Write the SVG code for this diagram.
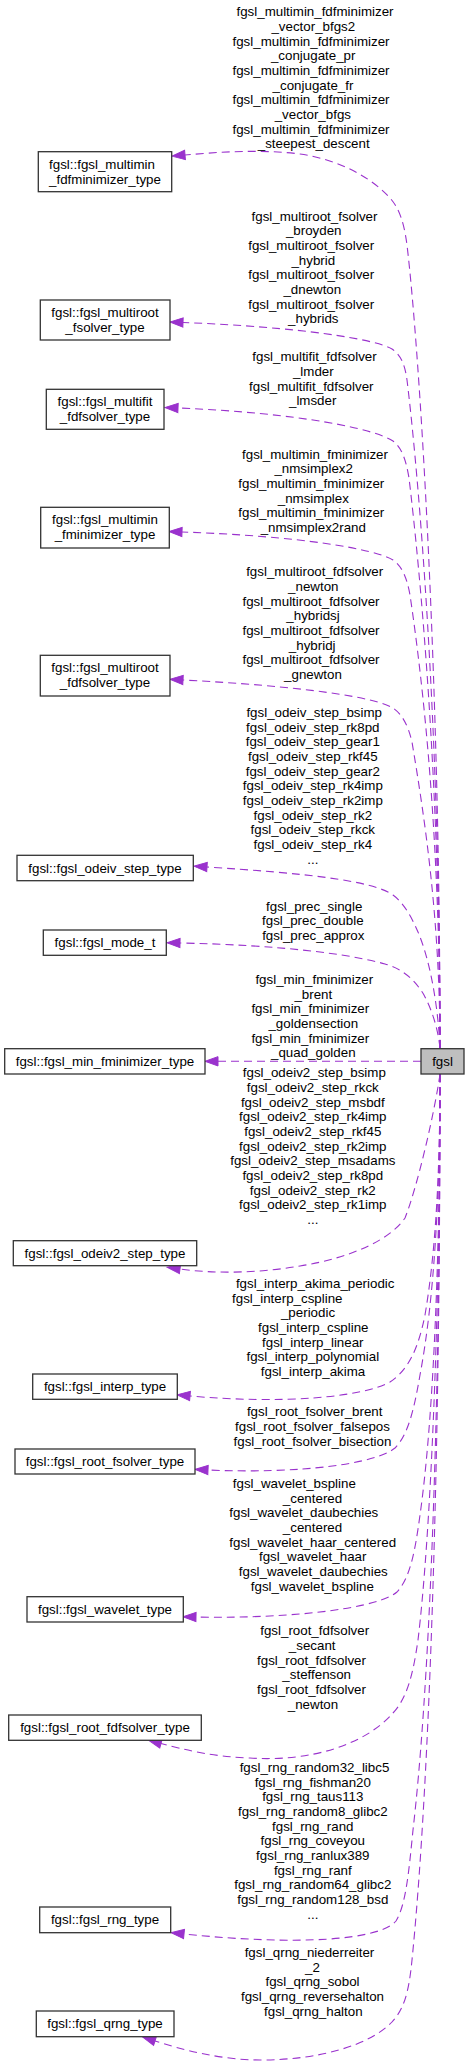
<svg xmlns="http://www.w3.org/2000/svg" width="469" height="2066" viewBox="0 0 469 2066">
<style>
text{font-family:"Liberation Sans",Arial,Helvetica,sans-serif;font-size:13.33px;fill:#000;text-anchor:middle}
.box{fill:#fff;stroke:#333;stroke-width:1.3}
.cur{fill:#bfbfbf;stroke:#333;stroke-width:1.3}
.e{fill:none;stroke:#9a32cd;stroke-width:1.1;stroke-dasharray:8,5;marker-end:url(#ah)}
</style>
<defs>
<marker id="ah" markerWidth="14" markerHeight="10" refX="0" refY="4.65" orient="auto" markerUnits="userSpaceOnUse" overflow="visible">
<path d="M0,0 L13,4.65 L0,9.3 Z" fill="#9a32cd" stroke="#9a32cd" stroke-width="1"/>
</marker>
</defs>
<rect width="469" height="2066" fill="#fff"/>

<g id="connectors">
<g id="e1"><path class="e" d="M440,1048 C440,681 420,355 407,245 C404,222 399,208 390,198 C372,178 340,160 300,154 C260,149 220,152 185,155"/>
<text><tspan x="315" y="16.2">fgsl_multimin_fdfminimizer</tspan><tspan x="313.3" y="30.9">_vector_bfgs2</tspan><tspan x="311" y="45.5">fgsl_multimin_fdfminimizer</tspan><tspan x="313.2" y="60.2">_conjugate_pr</tspan><tspan x="311" y="74.9">fgsl_multimin_fdfminimizer</tspan><tspan x="313" y="89.6">_conjugate_fr</tspan><tspan x="311" y="104.2">fgsl_multimin_fdfminimizer</tspan><tspan x="312.8" y="118.9">_vector_bfgs</tspan><tspan x="311" y="133.6">fgsl_multimin_fdfminimizer</tspan><tspan x="313.7" y="148.2">_steepest_descent</tspan></text></g>
<g id="e2"><path class="e" d="M440,1048 C440,720 418,470 407,380 C405,365 401,355 392,349 C375,339 300,327 183,322.5"/>
<text><tspan x="314.5" y="220.5">fgsl_multiroot_fsolver</tspan><tspan x="313.7" y="235.2">_broyden</tspan><tspan x="311.2" y="249.8">fgsl_multiroot_fsolver</tspan><tspan x="313.3" y="264.5">_hybrid</tspan><tspan x="311.2" y="279.2">fgsl_multiroot_fsolver</tspan><tspan x="312.3" y="293.9">_dnewton</tspan><tspan x="311.2" y="308.5">fgsl_multiroot_fsolver</tspan><tspan x="313.3" y="323.2">_hybrids</tspan></text></g>
<g id="e3"><path class="e" d="M440,1048 C440,780 420,570 409,478 C406,460 402,448 393,441 C375,429 300,413 178,408"/>
<text><tspan x="314.5" y="361.2">fgsl_multifit_fdfsolver</tspan><tspan x="313.3" y="375.9">_lmder</tspan><tspan x="311.3" y="390.5">fgsl_multifit_fdfsolver</tspan><tspan x="312.7" y="405.2">_lmsder</tspan></text></g>
<g id="e4"><path class="e" d="M440,1048 C440,840 424,690 410,595 C407,578 402,566 393,560 C375,549 300,536 182,532"/>
<text><tspan x="315" y="458.5">fgsl_multimin_fminimizer</tspan><tspan x="313.7" y="473.2">_nmsimplex2</tspan><tspan x="311.3" y="487.8">fgsl_multimin_fminimizer</tspan><tspan x="313.3" y="502.5">_nmsimplex</tspan><tspan x="311.3" y="517.2">fgsl_multimin_fminimizer</tspan><tspan x="313.3" y="531.9">_nmsimplex2rand</tspan></text></g>
<g id="e5"><path class="e" d="M440,1048 C440,920 425,820 412,742 C408,725 402,714 393,708 C375,697 300,686 183,680"/>
<text><tspan x="314.7" y="576.2">fgsl_multiroot_fdfsolver</tspan><tspan x="313.3" y="590.9">_newton</tspan><tspan x="311" y="605.5">fgsl_multiroot_fdfsolver</tspan><tspan x="313" y="620.2">_hybridsj</tspan><tspan x="311" y="634.9">fgsl_multiroot_fdfsolver</tspan><tspan x="312.2" y="649.6">_hybridj</tspan><tspan x="311" y="664.2">fgsl_multiroot_fdfsolver</tspan><tspan x="313" y="678.9">_gnewton</tspan></text></g>
<g id="e6"><path class="e" d="M440,1048 C438,1005 430,960 418,932 C412,918 404,903 393,895 C372,880 300,873 207,867"/>
<text><tspan x="314.2" y="716.8">fgsl_odeiv_step_bsimp</tspan><tspan x="312.8" y="731.5">fgsl_odeiv_step_rk8pd</tspan><tspan x="312.8" y="746.1">fgsl_odeiv_step_gear1</tspan><tspan x="312.8" y="760.8">fgsl_odeiv_step_rkf45</tspan><tspan x="312.8" y="775.5">fgsl_odeiv_step_gear2</tspan><tspan x="312.8" y="790.2">fgsl_odeiv_step_rk4imp</tspan><tspan x="312.8" y="804.8">fgsl_odeiv_step_rk2imp</tspan><tspan x="312.8" y="819.5">fgsl_odeiv_step_rk2</tspan><tspan x="312.8" y="834.2">fgsl_odeiv_step_rkck</tspan><tspan x="312.8" y="848.8">fgsl_odeiv_step_rk4</tspan><tspan x="312.8" y="863.5">...</tspan></text></g>
<g id="e7"><path class="e" d="M440,1048 C438,1030 433,1012 424,995 C415,980 403,969 385,964 C350,954 280,945 180,943"/>
<text><tspan x="314.2" y="910.5">fgsl_prec_single</tspan><tspan x="312.8" y="925.2">fgsl_prec_double</tspan><tspan x="313.3" y="939.8">fgsl_prec_approx</tspan></text></g>
<g id="e8"><path class="e" d="M421,1061.3 L218,1061.3"/>
<text><tspan x="314.3" y="983.8">fgsl_min_fminimizer</tspan><tspan x="313.3" y="998.5">_brent</tspan><tspan x="310.3" y="1013.1">fgsl_min_fminimizer</tspan><tspan x="313.3" y="1027.8">_goldensection</tspan><tspan x="310.3" y="1042.5">fgsl_min_fminimizer</tspan><tspan x="313.3" y="1057.2">_quad_golden</tspan></text></g>
<g id="e9"><path class="e" d="M440,1074 C435,1110 418,1185 405,1218 C390,1240 350,1258 300,1266 C260,1273 215,1274 180,1269"/>
<text><tspan x="314.3" y="1077.2">fgsl_odeiv2_step_bsimp</tspan><tspan x="312.8" y="1091.9">fgsl_odeiv2_step_rkck</tspan><tspan x="312.8" y="1106.5">fgsl_odeiv2_step_msbdf</tspan><tspan x="312.8" y="1121.2">fgsl_odeiv2_step_rk4imp</tspan><tspan x="312.8" y="1135.9">fgsl_odeiv2_step_rkf45</tspan><tspan x="312.8" y="1150.6">fgsl_odeiv2_step_rk2imp</tspan><tspan x="312.8" y="1165.2">fgsl_odeiv2_step_msadams</tspan><tspan x="312.8" y="1179.9">fgsl_odeiv2_step_rk8pd</tspan><tspan x="312.8" y="1194.6">fgsl_odeiv2_step_rk2</tspan><tspan x="312.8" y="1209.2">fgsl_odeiv2_step_rk1imp</tspan><tspan x="312.8" y="1223.9">...</tspan></text></g>
<g id="e10"><path class="e" d="M440,1074 C440,1170 436,1250 425,1315 C418,1350 408,1370 390,1382 C360,1398 280,1404 190,1396"/>
<text><tspan x="315.2" y="1287.8">fgsl_interp_akima_periodic</tspan><tspan x="287.3" y="1302.5">fgsl_interp_cspline</tspan><tspan x="308" y="1317.1">_periodic</tspan><tspan x="313.3" y="1331.8">fgsl_interp_cspline</tspan><tspan x="312.8" y="1346.5">fgsl_interp_linear</tspan><tspan x="312.8" y="1361.2">fgsl_interp_polynomial</tspan><tspan x="313" y="1375.8">fgsl_interp_akima</tspan></text></g>
<g id="e11"><path class="e" d="M440,1074 C440,1200 434,1300 420,1375 C414,1410 408,1435 395,1448 C375,1464 300,1474 208,1470"/>
<text><tspan x="314.7" y="1416.2">fgsl_root_fsolver_brent</tspan><tspan x="312.5" y="1430.9">fgsl_root_fsolver_falsepos</tspan><tspan x="312.5" y="1445.5">fgsl_root_fsolver_bisection</tspan></text></g>
<g id="e12"><path class="e" d="M440,1074 C440,1280 432,1430 420,1515 C415,1552 410,1578 397,1592 C380,1607 300,1619 196,1617"/>
<text><tspan x="294.3" y="1487.8">fgsl_wavelet_bspline</tspan><tspan x="312.5" y="1502.5">_centered</tspan><tspan x="303.8" y="1517.1">fgsl_wavelet_daubechies</tspan><tspan x="312.5" y="1531.8">_centered</tspan><tspan x="312.7" y="1546.5">fgsl_wavelet_haar_centered</tspan><tspan x="312.7" y="1561.2">fgsl_wavelet_haar</tspan><tspan x="313.3" y="1575.8">fgsl_wavelet_daubechies</tspan><tspan x="312.3" y="1590.5">fgsl_wavelet_bspline</tspan></text></g>
<g id="e13"><path class="e" d="M440,1074 C440,1330 430,1540 418,1640 C413,1675 407,1698 393,1713 C365,1745 310,1762 250,1758 C215,1757 185,1750 161,1743.5"/>
<text><tspan x="314.7" y="1635.2">fgsl_root_fdfsolver</tspan><tspan x="312.2" y="1649.9">_secant</tspan><tspan x="311.5" y="1664.5">fgsl_root_fdfsolver</tspan><tspan x="316.7" y="1679.2">_steffenson</tspan><tspan x="311.5" y="1693.9">fgsl_root_fdfsolver</tspan><tspan x="313" y="1708.6">_newton</tspan></text></g>
<g id="e14"><path class="e" d="M440,1074 C440,1450 428,1700 413,1830 C409,1870 406,1905 396,1921 C380,1940 300,1946 184,1934"/>
<text><tspan x="314.5" y="1771.8">fgsl_rng_random32_libc5</tspan><tspan x="312.8" y="1786.5">fgsl_rng_fishman20</tspan><tspan x="312.8" y="1801.1">fgsl_rng_taus113</tspan><tspan x="312.8" y="1815.8">fgsl_rng_random8_glibc2</tspan><tspan x="312.8" y="1830.5">fgsl_rng_rand</tspan><tspan x="312.8" y="1845.2">fgsl_rng_coveyou</tspan><tspan x="312.8" y="1859.8">fgsl_rng_ranlux389</tspan><tspan x="312.8" y="1874.5">fgsl_rng_ranf</tspan><tspan x="312.8" y="1889.2">fgsl_rng_random64_glibc2</tspan><tspan x="312.8" y="1903.8">fgsl_rng_random128_bsd</tspan><tspan x="312.8" y="1918.5">...</tspan></text></g>
<g id="e15"><path class="e" d="M440,1074 C440,1500 428,1800 412,1960 C409,1990 405,2008 392,2022 C370,2045 320,2060 260,2060 C220,2060 180,2049 155,2041"/>
<text><tspan x="309.5" y="1956.8">fgsl_qrng_niederreiter</tspan><tspan x="312.5" y="1971.5">_2</tspan><tspan x="312.5" y="1986.1">fgsl_qrng_sobol</tspan><tspan x="312.5" y="2000.8">fgsl_qrng_reversehalton</tspan><tspan x="313.3" y="2015.5">fgsl_qrng_halton</tspan></text></g>
</g>

<g id="nodes">
<g id="n_fgsl"><rect class="cur" x="421" y="1048.7" width="43" height="25.3"/><text x="442.5" y="1065.8">fgsl</text></g>
<g id="n1"><rect class="box" x="38.3" y="151.7" width="133.4" height="40"/><text><tspan x="102" y="168.5">fgsl::fgsl_multimin</tspan><tspan x="105" y="183.5">_fdfminimizer_type</tspan></text></g>
<g id="n2"><rect class="box" x="40.3" y="300" width="129.7" height="40"/><text><tspan x="105" y="316.8">fgsl::fgsl_multiroot</tspan><tspan x="105" y="331.8">_fsolver_type</tspan></text></g>
<g id="n3"><rect class="box" x="46.3" y="389.3" width="117.7" height="40"/><text><tspan x="105" y="406.1">fgsl::fgsl_multifit</tspan><tspan x="105" y="421.1">_fdfsolver_type</tspan></text></g>
<g id="n4"><rect class="box" x="40.7" y="507.3" width="128.6" height="40.7"/><text><tspan x="105" y="524.1">fgsl::fgsl_multimin</tspan><tspan x="105" y="539.1">_fminimizer_type</tspan></text></g>
<g id="n5"><rect class="box" x="40.3" y="655.3" width="129.7" height="40.7"/><text><tspan x="105" y="672.1">fgsl::fgsl_multiroot</tspan><tspan x="105" y="687.1">_fdfsolver_type</tspan></text></g>
<g id="n6"><rect class="box" x="17" y="855.3" width="176.3" height="25.4"/><text x="105" y="872.5">fgsl::fgsl_odeiv_step_type</text></g>
<g id="n7"><rect class="box" x="43.3" y="930" width="123" height="25.3"/><text x="105" y="947.2">fgsl::fgsl_mode_t</text></g>
<g id="n8"><rect class="box" x="4.7" y="1048.7" width="200.3" height="25.3"/><text x="105" y="1065.8">fgsl::fgsl_min_fminimizer_type</text></g>
<g id="n9"><rect class="box" x="13.3" y="1240.7" width="183.4" height="25"/><text x="105" y="1257.7">fgsl::fgsl_odeiv2_step_type</text></g>
<g id="n10"><rect class="box" x="32.7" y="1374" width="144.6" height="25.3"/><text x="105" y="1391.2">fgsl::fgsl_interp_type</text></g>
<g id="n11"><rect class="box" x="15" y="1449" width="180" height="25"/><text x="105" y="1466">fgsl::fgsl_root_fsolver_type</text></g>
<g id="n12"><rect class="box" x="27" y="1596.7" width="156.3" height="25.3"/><text x="105" y="1613.8">fgsl::fgsl_wavelet_type</text></g>
<g id="n13"><rect class="box" x="8.7" y="1715" width="192.6" height="25.3"/><text x="105" y="1732.2">fgsl::fgsl_root_fdfsolver_type</text></g>
<g id="n14"><rect class="box" x="39.7" y="1907" width="131" height="25.7"/><text x="105" y="1924.4">fgsl::fgsl_rng_type</text></g>
<g id="n15"><rect class="box" x="36.3" y="2011" width="137.7" height="25.7"/><text x="105" y="2028.4">fgsl::fgsl_qrng_type</text></g>
</g>
</svg>
